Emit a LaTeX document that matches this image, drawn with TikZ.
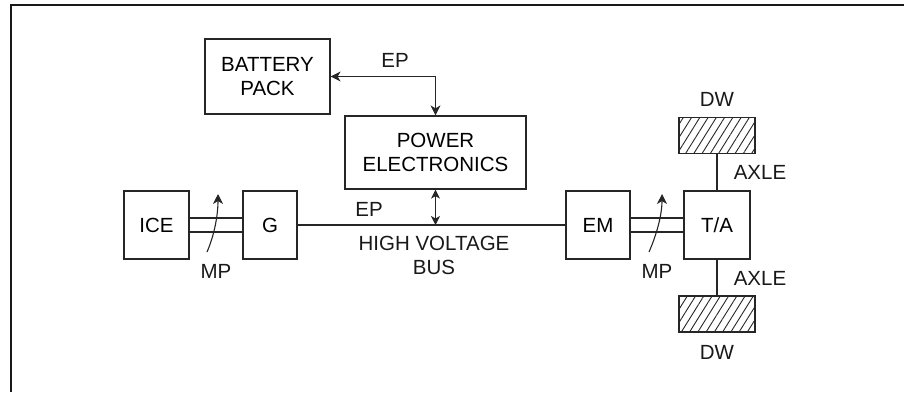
\documentclass[tikz,border=0pt]{standalone}
\usepackage{fontspec}
\setmainfont{Liberation Sans}
\usetikzlibrary{arrows.meta,patterns.meta}
\tikzset{
  box/.style={draw=black!85, line width=1.2pt, inner sep=0pt, align=center, font=\fontsize{20.5}{24}\selectfont},
  lbl/.style={inner sep=0pt, align=center, font=\fontsize{20.5}{24}\selectfont, text=black!90},
  wire/.style={draw=black!85, line width=1.1pt},
  dblarrow/.style={wire, {Stealth[length=10pt,width=10pt,inset=3pt]}-{Stealth[length=10pt,width=10pt,inset=3pt]}},
  smallarrow/.style={wire, {Stealth[length=9pt,width=9pt,inset=2.5pt]}-{Stealth[length=9pt,width=9pt,inset=2.5pt]}},
  mparrow/.style={wire, -{Stealth[length=10pt,width=10pt,inset=3pt]}},
  wheel/.style={draw=black!85, line width=1.2pt, minimum width=76pt, minimum height=36pt, inner sep=0pt,
    pattern={Lines[angle=58,distance=7pt,line width=0.9pt]}, pattern color=black!85},
  framel/.style={draw=black!90, line width=1.5pt}
}
\begin{document}
\begin{tikzpicture}[x=1pt,y=-1pt]
\useasboundingbox (0,0) rectangle (904,392);
\draw[framel] (11,392) -- (11,5) -- (904,5);

% boxes
\node[box, minimum width=125pt, minimum height=75pt] (bp) at (267.5,76.5) {BATTERY\\PACK};
\node[box, minimum width=181pt, minimum height=73pt] (pe) at (435.5,152.5) {POWER\\ELECTRONICS};
\node[box, minimum width=65pt, minimum height=68pt] (ice) at (156.5,225) {ICE};
\node[box, minimum width=54pt, minimum height=68pt] (g) at (270,225) {G};
\node[box, minimum width=64pt, minimum height=68pt] (em) at (598,225) {EM};
\node[box, minimum width=66pt, minimum height=68pt] (ta) at (717,225) {T/A};
\node[wheel] (dwt) at (717,135.5) {};
\node[wheel] (dwb) at (717,314) {};

% labels
\node[lbl] (ep1) at (395,60) {EP};
\node[lbl] (ep2) at (369,209) {EP};
\node[lbl] (hvb) at (434,255) {HIGH VOLTAGE\\BUS};
\node[lbl] (mp1) at (216,271) {MP};
\node[lbl] (mp2) at (657,271) {MP};
\node[lbl] (dwl1) at (717,99) {DW};
\node[lbl] (dwl2) at (717,352) {DW};
\node[lbl] (ax1) at (760,172) {AXLE};
\node[lbl] (ax2) at (760,278) {AXLE};

% connectors
\draw[dblarrow] (bp.east) -| (pe.north);
\coordinate (busj) at (pe.south |- g.east);
\draw[smallarrow] (pe.south) -- (busj);
\draw[wire] (g.east) -- (em.west);
\draw[wire] ([yshift=7pt]ice.east) -- ([yshift=7pt]g.west);
\draw[wire] ([yshift=-7pt]ice.east) -- ([yshift=-7pt]g.west);
\draw[wire] ([yshift=7pt]em.east) -- ([yshift=7pt]ta.west);
\draw[wire] ([yshift=-7pt]em.east) -- ([yshift=-7pt]ta.west);
\draw[wire] (ta.north) -- (dwt.south);
\draw[wire] (ta.south) -- (dwb.north);

% MP curved arrows
\coordinate (mp1s) at (207,252);
\coordinate (mp1e) at (218,194);
\coordinate (mp2s) at (649,252);
\coordinate (mp2e) at (662,194);
\draw[mparrow] (mp1s) .. controls (214,236) and (218,216) .. (mp1e);
\draw[mparrow] (mp2s) .. controls (656,236) and (662,216) .. (mp2e);
\end{tikzpicture}
\end{document}
